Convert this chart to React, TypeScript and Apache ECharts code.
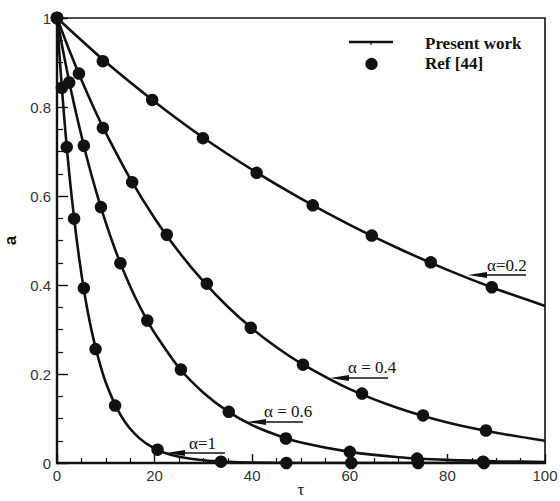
import React, { useEffect, useRef } from "react";
import * as echarts from "echarts";

// ---- Data ----
// Present work curves (τ, a)
const tau02 = [0, 10, 20, 30, 40, 50, 60, 70, 80, 90, 100];
const a02 = [1, 0.901, 0.812, 0.731, 0.659, 0.594, 0.535, 0.482, 0.434, 0.391, 0.353];

const tau04 = [0, 2.5, 5, 7.5, 10, 15, 20, 25, 30, 35, 40, 45, 50, 60, 70, 80, 90, 100];
const a04 = [1, 0.928, 0.861, 0.799, 0.742, 0.639, 0.55, 0.474, 0.408, 0.351, 0.302, 0.26, 0.224, 0.166, 0.123, 0.091, 0.068, 0.05];

const tau06 = [0, 1, 2, 3, 4, 6, 8, 10, 12, 14, 16, 18, 20, 25, 30, 35, 40, 45, 50, 60, 70, 80, 90, 100];
const a06 = [1, 0.94, 0.884, 0.831, 0.782, 0.691, 0.611, 0.54, 0.477, 0.422, 0.373, 0.33, 0.292, 0.214, 0.158, 0.116, 0.085, 0.063, 0.046, 0.025, 0.013, 0.007, 0.004, 0.002];

const tau10 = [0, 0.5, 1, 1.5, 2, 2.5, 3, 4, 5, 6, 7, 8, 9, 10, 12, 14, 16, 18, 20, 22, 25, 30, 35, 40, 50, 60, 100];
const a10 = [1, 0.918, 0.843, 0.774, 0.71, 0.652, 0.599, 0.505, 0.425, 0.358, 0.302, 0.255, 0.215, 0.181, 0.129, 0.091, 0.065, 0.046, 0.033, 0.023, 0.014, 0.006, 0.0025, 0.001, 0, 0, 0];

// Ref [44] markers
const ref02Tau = [0, 9.4, 19.5, 29.9, 40.9, 52.4, 64.5, 76.6, 89.1];
const ref02A = [1, 0.903, 0.816, 0.73, 0.652, 0.579, 0.511, 0.451, 0.395];

const ref04Tau = [0, 4.5, 9.4, 15.4, 22.5, 30.7, 39.7, 50.4, 62.5, 75.0, 87.9];
const ref04A = [1, 0.875, 0.753, 0.631, 0.513, 0.403, 0.304, 0.221, 0.156, 0.107, 0.073];

const ref06Tau = [0, 2.5, 5.5, 9.0, 13.0, 18.5, 25.4, 35.2, 46.9, 60.0, 73.8, 87.3];
const ref06A = [1, 0.855, 0.713, 0.575, 0.449, 0.32, 0.21, 0.115, 0.055, 0.025, 0.01, 0.003];

const ref10Tau = [0, 1.0, 2.0, 3.5, 5.5, 7.9, 11.9, 20.6, 33.6, 47.0, 60.3, 74.0, 87.5];
const ref10A = [1, 0.843, 0.71, 0.549, 0.393, 0.256, 0.129, 0.03, 0.003, 0, 0, 0, 0];

const curveLabels = ["α=0.2", "α = 0.4", "α = 0.6", "α=1"];
const legendNames = ["Present work", "Ref [44]"];

const pairs = (xs: number[], ys: number[]) => xs.map((x, i) => [x, ys[i]]);

const INK = "#111111";
const SERIF = "'Liberation Serif', 'Times New Roman', serif";
const SANS = "'Liberation Sans', Arial, sans-serif";

export default function App() {
  const ref = useRef<HTMLDivElement>(null);

  useEffect(() => {
    if (!ref.current) return;
    const chart = echarts.init(ref.current, undefined, { renderer: "svg" });

    const lineSeries = [
      pairs(tau02, a02),
      pairs(tau04, a04),
      pairs(tau06, a06),
      pairs(tau10, a10),
    ].map((data) => ({
      name: legendNames[0],
      type: "line",
      data,
      smooth: 0.25,
      showSymbol: false,
      symbol: "none",
      lineStyle: { color: INK, width: 2.6 },
      itemStyle: { color: INK },
      z: 2,
    }));

    const markerSeries = [
      pairs(ref02Tau, ref02A),
      pairs(ref04Tau, ref04A),
      pairs(ref06Tau, ref06A),
      pairs(ref10Tau, ref10A),
    ].map((data) => ({
      name: legendNames[1],
      type: "scatter",
      data,
      symbol: "circle",
      symbolSize: 12.5,
      clip: false,
      itemStyle: { color: INK, opacity: 1 },
      z: 3,
    }));

    const arrow = (x1: number, x2: number, y: number) => [
      {
        type: "line",
        shape: { x1: x1 + 14, y1: y, x2, y2: y },
        style: { stroke: INK, lineWidth: 1.3 },
      },
      {
        type: "polygon",
        shape: {
          points: [
            [x1, y],
            [x1 + 19, y - 3],
            [x1 + 19, y + 3],
          ],
        },
        style: { fill: INK },
      },
    ];

    const label = (text: string, x: number, y: number) => ({
      type: "text",
      x,
      y,
      style: {
        text,
        fill: INK,
        font: `17px ${SERIF}`,
        textAlign: "left",
        textVerticalAlign: "middle",
      },
    });

    chart.setOption({
      animation: false,
      backgroundColor: "#ffffff",
      grid: {
        left: 57,
        top: 18,
        right: 15,
        bottom: 38,
        show: true,
        borderColor: INK,
        borderWidth: 1.6,
        containLabel: false,
        outerBoundsMode: "none",
      },
      xAxis: {
        type: "value",
        min: 0,
        max: 100,
        interval: 20,
        name: "τ",
        nameLocation: "middle",
        nameMoveOverlap: false,
        nameGap: 18,
        nameTextStyle: { fontFamily: SERIF, fontSize: 17, color: INK },
        axisLine: { show: true, onZero: false, lineStyle: { color: INK, width: 2.4 } },
        axisTick: { show: true, inside: true, length: 9, lineStyle: { color: INK, width: 1.4 } },
        minorTick: { show: true, splitNumber: 4, length: 5, lineStyle: { color: INK, width: 1.2 } },
        splitLine: { show: false },
        axisLabel: { color: "#333333", fontFamily: SANS, fontSize: 15, margin: 5 },
      },
      yAxis: {
        type: "value",
        min: 0,
        max: 1,
        interval: 0.2,
        name: "a",
        nameLocation: "middle",
        nameRotate: 90,
        nameGap: 36,
        nameTextStyle: { fontFamily: SANS, fontSize: 17, fontWeight: "bold", color: INK },
        axisLine: { show: true, onZero: false, lineStyle: { color: INK, width: 2.4 } },
        axisTick: { show: true, inside: true, length: 11, lineStyle: { color: INK, width: 1.4 } },
        minorTick: { show: true, splitNumber: 4, length: 6, lineStyle: { color: INK, width: 1.2 } },
        splitLine: { show: false },
        axisLabel: { color: "#333333", fontFamily: SANS, fontSize: 15, margin: 6 },
      },
      series: [...lineSeries, ...markerSeries],
      graphic: [
        // legend
        {
          type: "line",
          shape: { x1: 349, y1: 42, x2: 393, y2: 42 },
          style: { stroke: INK, lineWidth: 2.6 },
        },
        {
          type: "line",
          shape: { x1: 371, y1: 42, x2: 371, y2: 45 },
          style: { stroke: INK, lineWidth: 1.2 },
        },
        {
          type: "circle",
          shape: { cx: 371.5, cy: 64, r: 6.2 },
          style: { fill: INK },
        },
        {
          type: "text",
          x: 425,
          y: 43,
          style: {
            text: legendNames[0],
            fill: INK,
            font: `bold 17px ${SERIF}`,
            textVerticalAlign: "middle",
          },
        },
        {
          type: "text",
          x: 425,
          y: 63,
          style: {
            text: legendNames[1],
            fill: INK,
            font: `bold 17px ${SERIF}`,
            textVerticalAlign: "middle",
          },
        },
        // curve annotations
        label(curveLabels[0], 487, 265),
        ...arrow(468, 526, 275),
        label(curveLabels[1], 348, 367),
        ...arrow(330, 388, 378),
        label(curveLabels[2], 264, 411),
        ...arrow(247, 303, 422),
        label(curveLabels[3], 189, 443),
        ...arrow(166, 225, 453),
      ],
    });

    return () => chart.dispose();
  }, []);

  return (
    <div
      ref={ref}
      style={{ position: "fixed", left: 0, top: 0, width: 560, height: 501, background: "#fff" }}
    />
  );
}
